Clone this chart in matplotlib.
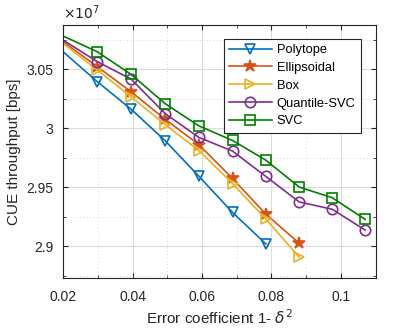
import numpy as np
import matplotlib.pyplot as plt
from matplotlib.ticker import MultipleLocator

plt.rcParams['font.family'] = ['Liberation Sans', 'DejaVu Sans']
plt.rcParams['mathtext.fontset'] = 'dejavusans'

# error coefficient 1 - delta^2
err = [0.0199, 0.0298, 0.0396, 0.0494, 0.0591, 0.0688, 0.0784, 0.0880, 0.0975, 0.1070]

# CUE throughput (x 1e7 bps)
polytope = [3.0650, 3.0395, 3.0160, 2.9893, 2.9592, 2.9285, 2.9018]
ellipsoidal = [3.0735, 3.0522, 3.0308, 3.0075, 2.9860, 2.9573, 2.9270, 2.9024]
box = [3.0720, 3.0494, 3.0264, 3.0030, 2.9810, 2.9530, 2.9229, 2.8906]
quantile_svc = [3.0748, 3.0564, 3.0415, 3.0123, 2.9921, 2.9805, 2.9590, 2.9374, 2.9312, 2.9135]
svc = [3.0782, 3.0648, 3.0455, 3.0207, 3.0019, 2.9895, 2.9728, 2.9500, 2.9410, 2.9226]

series = [
    ('Polytope', polytope, '#0072BD', 'v', 'none'),
    ('Ellipsoidal', ellipsoidal, '#D95319', '*', '#D95319'),
    ('Box', box, '#EDB120', '>', 'none'),
    ('Quantile-SVC', quantile_svc, '#7E2F8E', 'o', 'none'),
    ('SVC', svc, '#008000', 's', 'none'),
]

fig = plt.figure(figsize=(4.15, 3.32), dpi=100)
ax = fig.add_axes([0.152, 0.163, 0.753, 0.762])

for name, vals, col, mk, mfc in series:
    ax.plot(err[:len(vals)], vals, color=col, marker=mk, mfc=mfc, mec=col,
            ms=9 if mk == '*' else 7.5, mew=1.2, lw=1.2, label=name,
            markevery=slice(1, None))

ax.set_xlim(0.02, 0.11)
ax.set_ylim(2.873, 3.0875)
ax.set_xticks([0.02, 0.04, 0.06, 0.08, 0.1])
ax.set_xticklabels(['0.02', '0.04', '0.06', '0.08', '0.1'])
ax.set_yticks([2.9, 2.95, 3.0, 3.05])
ax.set_yticklabels(['2.9', '2.95', '3', '3.05'])
ax.xaxis.set_minor_locator(MultipleLocator(0.01))
ax.yaxis.set_minor_locator(MultipleLocator(0.025))

ax.grid(True, which='major', color='#dcdcdc', lw=0.8)
ax.grid(True, which='minor', color='#c8c8c8', lw=0.6, ls=(0, (1, 3)))
ax.set_axisbelow(True)
ax.tick_params(which='both', direction='in', top=True, right=True,
               labelsize=10, colors='#262626')
ax.tick_params(axis='x', which='major', pad=9)
ax.tick_params(axis='y', which='major', pad=7)
ax.tick_params(which='minor', length=2)
for sp in ax.spines.values():
    sp.set_color('#262626')
    sp.set_linewidth(0.8)

ax.text(0.0, 1.012, r'$\times10^{7}$', transform=ax.transAxes, fontsize=10,
        color='#262626', va='bottom', ha='left')

ax.set_xlabel(r'Error coefficient 1- $\delta^2$', fontsize=11, color='#262626',
              labelpad=3)
ax.set_ylabel('CUE throughput [bps]', fontsize=11, color='#262626', labelpad=4)

leg = ax.legend(loc='upper right', bbox_to_anchor=(0.953, 0.945),
                borderaxespad=0, fontsize=9.3,
                fancybox=False, framealpha=1, edgecolor='#262626',
                handlelength=3.3, borderpad=0.4, labelspacing=0.45,
                handletextpad=0.4)
leg.get_frame().set_linewidth(0.8)

fig.savefig('out.png', dpi=100)
